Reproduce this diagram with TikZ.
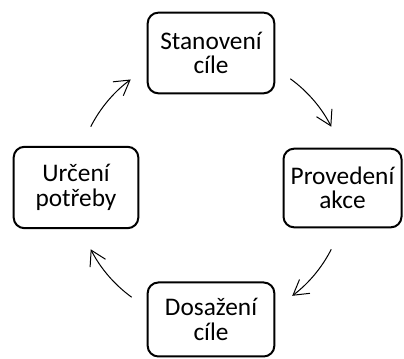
\documentclass[tikz,border=0pt]{standalone}
\usepackage{fontspec}
\setmainfont{Carlito}
\usetikzlibrary{arrows.meta}
\begin{document}
\begin{tikzpicture}[x=0.75pt,y=0.75pt,
  krok/.style={draw,line width=1.5pt,rounded corners=8pt,align=center,inner sep=0pt,
    font=\fontsize{19}{18.3}\selectfont},
  cyc/.style={line width=0.75pt,-{Straight Barb[length=11pt,width=13pt]}}]
  \useasboundingbox (0,0) rectangle (404,359);
  \node[krok,minimum width=95pt,minimum height=60.5pt] (stanoveni) at (211,306) {Stanovení\\cíle};
  \node[krok,minimum width=88.5pt,minimum height=59pt] (provedeni) at (342.5,171) {Provedení\\akce};
  \node[krok,minimum width=95pt,minimum height=55.5pt] (dosazeni) at (211,39.5) {Dosažení\\cíle};
  \node[krok,minimum width=93.5pt,minimum height=61pt] (urceni) at (76,171.5) {Určení\\potřeby};
  \coordinate (stred) at (211,171);
  \draw[cyc] ([shift={(54:101.25pt)}]stred) arc[start angle=54,end angle=27,radius=101.25pt];
  \draw[cyc] ([shift={(-27:101.25pt)}]stred) arc[start angle=-27,end angle=-53,radius=101.25pt];
  \draw[cyc] ([shift={(-126:101.25pt)}]stred) arc[start angle=-126,end angle=-153,radius=101.25pt];
  \draw[cyc] ([shift={(153:101.25pt)}]stred) arc[start angle=153,end angle=126.5,radius=101.25pt];
\end{tikzpicture}
\end{document}
